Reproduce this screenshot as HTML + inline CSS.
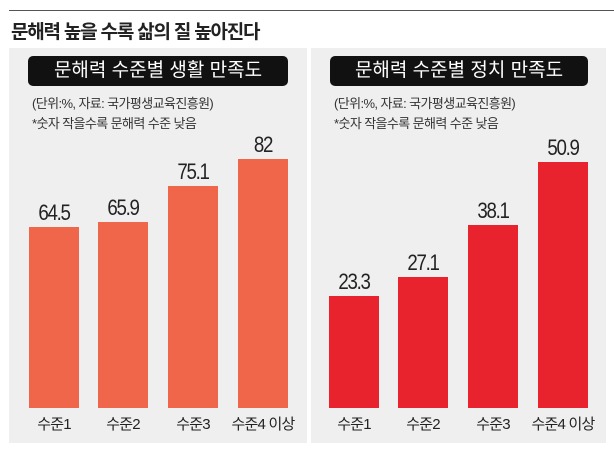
<!DOCTYPE html>
<html><head><meta charset="utf-8"><style>
body{margin:0;width:614px;height:453px;background:#fff;position:relative;overflow:hidden;font-family:"Liberation Sans","Noto Sans CJK KR",sans-serif;color:#222}
.a{position:absolute}
.panel{position:absolute;top:48px;height:395px;background:#efefef}
.hdr{position:absolute;background:#111;color:#fff;border-radius:5px;height:30px;line-height:30px;text-align:center;font-size:19px}
.note{position:absolute;font-size:13px;color:#333;line-height:20px;letter-spacing:-0.6px}
.bar{position:absolute}
.v{position:absolute;width:80px;text-align:center;font-size:22px;letter-spacing:-1.5px;color:#222;transform:scaleX(0.85)}
.c{position:absolute;width:80px;text-align:center;font-size:15px;letter-spacing:-0.8px;top:413px}
</style></head><body>
<div class="a" style="left:9px;top:10px;width:605px;height:1px;background:#555"></div>
<div class="a" style="left:11px;top:17px;font-size:19px;font-weight:bold;letter-spacing:-1.2px">문해력 높을 수록 삶의 질 높아진다</div>
<div class="panel" style="left:9px;width:298px"></div>
<div class="panel" style="left:311px;width:295px"></div>
<div class="hdr" style="left:28px;top:56px;width:260px">문해력 수준별 생활 만족도</div>
<div class="hdr" style="left:330px;top:56px;width:258px">문해력 수준별 정치 만족도</div>
<div class="note" style="left:32px;top:94px">(단위:%, 자료: 국가평생교육진흥원)<br>*숫자 작을수록 문해력 수준 낮음</div>
<div class="note" style="left:334px;top:94px">(단위:%, 자료: 국가평생교육진흥원)<br>*숫자 작을수록 문해력 수준 낮음</div>

<div class="bar" style="left:29px;top:227px;width:50px;height:181px;background:#f0664a"></div>
<div class="bar" style="left:98px;top:222px;width:50px;height:186px;background:#f0664a"></div>
<div class="bar" style="left:168px;top:186px;width:50px;height:222px;background:#f0664a"></div>
<div class="bar" style="left:238px;top:159px;width:50px;height:249px;background:#f0664a"></div>
<div class="v" style="left:14px;top:200px">64.5</div>
<div class="v" style="left:83px;top:195px">65.9</div>
<div class="v" style="left:153px;top:159px">75.1</div>
<div class="v" style="left:223px;top:132px">82</div>
<div class="c" style="left:14px">수준1</div>
<div class="c" style="left:83px">수준2</div>
<div class="c" style="left:153px">수준3</div>
<div class="c" style="left:223px">수준4 이상</div>

<div class="bar" style="left:329px;top:296px;width:50px;height:112px;background:#e8232e"></div>
<div class="bar" style="left:398px;top:277px;width:50px;height:131px;background:#e8232e"></div>
<div class="bar" style="left:468px;top:225px;width:50px;height:183px;background:#e8232e"></div>
<div class="bar" style="left:538px;top:162px;width:50px;height:246px;background:#e8232e"></div>
<div class="v" style="left:314px;top:269px">23.3</div>
<div class="v" style="left:383px;top:250px">27.1</div>
<div class="v" style="left:453px;top:198px">38.1</div>
<div class="v" style="left:523px;top:135px">50.9</div>
<div class="c" style="left:314px">수준1</div>
<div class="c" style="left:383px">수준2</div>
<div class="c" style="left:453px">수준3</div>
<div class="c" style="left:523px">수준4 이상</div>
</body></html>
